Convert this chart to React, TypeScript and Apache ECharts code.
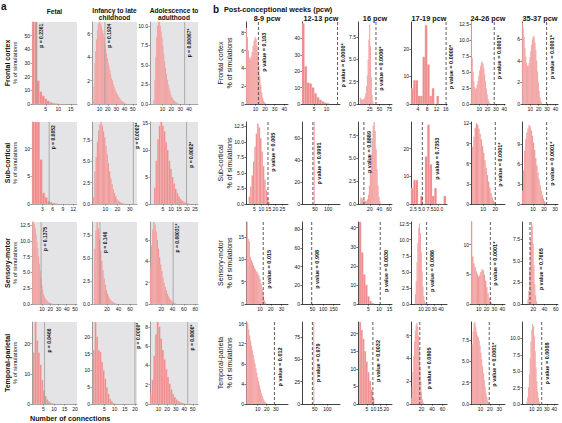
import React, { useEffect, useRef } from 'react';
import * as echarts from 'echarts';

// ---------- labels ----------
const regionsA = ['Frontal cortex', 'Sub-cortical', 'Sensory-motor', 'Temporal-parietal'];
const regionsB = ['Frontal cortex', 'Sub-cortical', 'Sensory-motor', 'Temporal-parieta'];
const stagesA = [['Fetal'], ['Infancy to late', 'childhood'], ['Adolescence to', 'adulthood']];
const stagesB = ['8-9 pcw', '12-13 pcw', '16 pcw', '17-19 pcw', '24-26 pcw', '35-37 pcw'];

// ---------- panel a: % of simulations per bin ----------
const aFrontalFetal = [62, 62, 17, 9, 6, 3.8, 2.2, 1.3, 0.7, 0.35, 0.15];
const aFrontalInfancy = [0.3, 1.5, 3.5, 4.5, 5.5, 6.3, 6.8, 7.0, 7.0, 6.9, 6.6, 6.3, 6.0, 5.6, 5.1, 4.7, 4.3, 3.9, 3.5, 3.2, 2.9, 2.5, 2.2, 2.0, 1.7, 1.5, 1.3, 1.1, 0.95, 0.8, 0.65, 0.55, 0.45, 0.35, 0.28, 0.22, 0.17, 0.12, 0.08];
const aFrontalAdolescence = [0.5, 3, 6, 8.5, 10, 10.5, 10.5, 10, 9.3, 8.5, 7.5, 6.5, 5.5, 4.6, 3.8, 3.1, 2.5, 2, 1.6, 1.2, 0.9, 0.7, 0.5, 0.4, 0.3, 0.2, 0.15, 0.1];
const aSubFetal = [15, 15, 15, 8, 2, 1.2, 0.5, 0.3, 0.15, 0.08];
const aSubInfancy = [0.8, 3.8, 5.5, 7.3, 8.6, 9.3, 9.6, 9.2, 8.5, 7.8, 6.8, 5.8, 4.8, 3.8, 3.0, 2.3, 1.7, 1.25, 0.9, 0.6, 0.4, 0.28, 0.18, 0.12, 0.07, 0.04];
const aSubAdolescence = [3, 8, 12, 14.5, 15.2, 14.5, 13.5, 11.5, 10, 8, 6.5, 5, 3.8, 2.8, 2, 1.4, 0.9, 0.6, 0.4, 0.25, 0.15, 0.1];
const aSensFetal = [13, 13, 12.6, 12, 11, 10, 8.8, 7.6, 6.4, 5.2, 4.0, 3.0, 2.2, 1.6, 1.2, 0.9, 0.7, 0.5, 0.38, 0.28, 0.2, 0.14, 0.1, 0.06];
const aSensInfancy = [6, 8, 8.9, 8.2, 7, 5.8, 4.7, 3.7, 2.8, 2.1, 1.5, 1.1, 0.8, 0.55, 0.38, 0.25, 0.16, 0.1, 0.06];
const aSensAdolescence = [3.5, 5.5, 7.0, 7.7, 7.5, 6.8, 6.0, 5.2, 4.4, 3.7, 3.1, 2.5, 2.0, 1.6, 1.25, 0.95, 0.7, 0.5, 0.35, 0.25, 0.17, 0.1, 0.06];
const aTempFetal = [17, 27.2, 21, 17, 13, 8, 4.5, 2.5, 1.5, 0.8, 0.4, 0.2, 0.1];
const aTempInfancy = [16, 24.4, 20, 16, 15.5, 12.5, 10, 7.5, 5, 3, 1.5, 0.8, 0.3, 0.1];
const aTempAdolescence = [1, 2.5, 5, 7.2, 8.5, 8.0, 6.8, 5.6, 4.6, 3.6, 2.8, 2.1, 1.5, 1.0, 0.7, 0.45, 0.3, 0.2, 0.12, 0.07];

// ---------- panel b: % of simulations per bin ----------
const bFrontal89 = [8.5, 7.5, 6.0, 5.2, 5.0, 5.3, 5.8, 6.5, 7.1, 7.5, 7.3, 6.6, 5.5, 4.3, 3.1, 2.1, 1.3, 0.7, 0.35, 0.15, 0.05];
const bFrontal1213 = [49, 23, 13, 12.5, 10, 6.5, 4, 2.5, 1.5, 0.8, 0.4];
const bFrontal16 = [0.7, 0.5, 0.5, 0.45, 0.5, 0.6, 0.8, 1.2, 2, 3.2, 5.0, 7.2, 8.9, 6.5, 3.0, 1.0, 0.3];
const bFrontal1719 = [5.7, 8.6, 8.6, 2.9, 2.9, 17.1, 28.6, 14.3, 2.9, 5.7, 0, 2.9];
const bFrontal2426 = [12.8, 7.2, 5, 3.5, 2.6, 2.3, 2.5, 3.0, 3.6, 4.4, 5.2, 5.9, 6.4, 6.6, 6.3, 5.6, 4.6, 3.5, 2.4, 1.5, 0.8, 0.4, 0.15];
const bFrontal3537 = [7.5, 7.0, 6.2, 5.2, 4.4, 3.8, 3.5, 3.5, 3.8, 4.3, 4.9, 5.5, 6.0, 6.3, 6.2, 5.7, 5.0, 4.0, 3.0, 2.0, 1.2, 0.6, 0.25, 0.1];
const bSub89 = [1.2, 2.8, 4.6, 6.8, 9.2, 11.3, 12.9, 12.3, 10.6, 8.4, 6.1, 3.9, 2.2, 1.0, 0.3];
const bSub1213 = [75];
const bSub16 = [0.7, 0.6, 0.5, 0.4, 0.4, 0.3, 0.3, 0.5, 1.0, 2.0, 3.6, 5.4, 7.2, 8.6, 9.0, 8.0, 6.0, 3.8, 2.0, 0.8, 0.3];
const bSub1719 = [5.7, 8.6, 8.6, 0, 2.9, 0, 17.1, 28.6, 14.3, 2.9, 5.7, 0, 0, 0, 2.9];
const bSub2426 = [8.5, 10, 11.3, 12, 11.8, 11.2, 10.4, 9.6, 8.6, 7.6, 6.5, 5.4, 4.3, 3.3, 2.4, 1.6, 1.0, 0.5, 0.2];
const bSub3537 = [2, 5, 8, 9.7, 10.7, 11.3, 11.8, 11.6, 11.0, 10.2, 9.2, 8.1, 6.9, 5.8, 4.7, 3.7, 2.8, 2.0, 1.3, 0.8, 0.4, 0.15];
const bSens89 = [18.3, 14.5, 14.0, 10.5, 9.8, 9.2, 8.6, 8.0, 7.6, 7.2, 6.8, 6.3, 5.6, 4.6, 3.3, 1.9, 0.8, 0.3];
const bSens1213 = [5];
const bSens16 = [43, 27, 15.5, 10, 4, 1.5, 0.5];
const bSens1719 = [1.5, 3.5, 6.5, 9.5, 11.8, 12.5, 11.0, 8.0, 5.0, 2.7, 1.2, 0.5, 0.15];
const bSens2426 = [13.8, 8.0, 6.8, 6.2, 5.5, 5.0, 4.6, 4.8, 5.4, 5.8, 5.6, 4.9, 3.9, 2.8, 1.8, 1.0, 0.5, 0.2];
const bSens3537 = [0.5, 1.5, 4, 7.5, 9.5, 9.0, 7.0, 4.5, 2.3, 1.0, 0.3];
const bTemp89 = [16.3, 16, 14.8, 13.6, 12.6, 11.6, 10.7, 9.8, 8.9, 8.0, 7.1, 6.2, 5.3, 4.5, 3.7, 2.9, 2.2, 1.6, 1.1, 0.7, 0.4, 0.2, 0.1];
const bTemp1213 = [92];
const bTemp16 = [23.3, 21, 18.5, 15, 12, 9, 6.5, 4, 1.5];
const bTemp1719 = [0.5, 1.5, 2.8, 4.2, 5.5, 6.4, 6.9, 7.1, 6.8, 6.0, 4.8, 3.3, 2.0, 1.0, 0.4, 0.15];
const bTemp2426 = [7, 8.5, 9.4, 9.6, 9.0, 8.4, 8.0, 7.8, 7.4, 6.8, 6.0, 5.2, 4.4, 3.6, 2.8, 2.0, 1.3, 0.8, 0.4, 0.15];
const bTemp3537 = [0.3, 1.0, 2.5, 4.5, 7.0, 9.5, 11.3, 12.2, 11.8, 10.3, 8.0, 5.6, 3.5, 1.9, 0.9, 0.3];

// ---------- layout ----------
const A_COLS = [[32, 45], [92, 45], [150, 48]];
const B_COLS = [[246, 42], [302, 38], [358, 34], [411, 36], [471, 34], [522, 36]];
const ROW_TOPS = [22, 122, 222, 322];
const ROW_H = 82;
const FONT = '"Liberation Sans", Arial, Helvetica, sans-serif';
const BAR_FILL = '#ef8a8a';
const BAR_EDGE = '#f8c2c2';

type Spec = {
  kind: 'a' | 'b'; row: number; col: number;
  h: number[]; bs: number; bw: number;
  xMin: number; xMax: number; xTicks: number[]; xDec?: number;
  yMax: number; yTicks: number[]; yDec?: number;
  pLine: number; pText: string; top: number; gap: number;
};

const specs: Spec[] = [
  // panel a
  { kind: 'a', row: 0, col: 0, h: aFrontalFetal, bs: -0.5, bw: 1, xMin: -0.5, xMax: 17.5, xTicks: [5, 10, 15], yMax: 60, yTicks: [0, 10, 20, 30, 40, 50], pLine: 1.4, pText: 'p = 0.2361', top: 0.02, gap: 1.5 },
  { kind: 'a', row: 0, col: 1, h: aFrontalInfancy, bs: 2, bw: 1, xMin: 1, xMax: 55, xTicks: [10, 20, 30, 40, 50], yMax: 7, yTicks: [0, 2, 4, 6], pLine: 16.5, pText: 'p = 0.1924', top: 0.02, gap: 1.5 },
  { kind: 'a', row: 0, col: 2, h: aFrontalAdolescence, bs: 0, bw: 1, xMin: -4, xMax: 50, xTicks: [10, 20, 30, 40], yMax: 10.5, yTicks: [0, 2.5, 5, 7.5, 10], yDec: 1, pLine: 35, pText: 'p = 0.00067*', top: 0.08, gap: 1.5 },
  { kind: 'a', row: 1, col: 0, h: aSubFetal, bs: 0, bw: 0.75, xMin: 0, xMax: 13.1, xTicks: [3, 6, 9, 12], yMax: 14.8, yTicks: [0, 5, 10], pLine: 5, pText: 'p = 0.0052', top: 0.04, gap: 1.5 },
  { kind: 'a', row: 1, col: 1, h: aSubInfancy, bs: 0, bw: 1, xMin: -1, xMax: 36, xTicks: [10, 20, 30], yMax: 9.6, yTicks: [0, 2.5, 5, 7.5], yDec: 1, pLine: 33, pText: 'p = 0.0002*', top: 0.01, gap: 1.5 },
  { kind: 'a', row: 1, col: 2, h: aSubAdolescence, bs: -0.5, bw: 1, xMin: -3, xMax: 26.8, xTicks: [5, 10, 15, 20, 25], yMax: 15.2, yTicks: [0, 5, 10, 15], pLine: 19.7, pText: 'p = 0.0002*', top: 0.24, gap: 1.5 },
  { kind: 'a', row: 2, col: 0, h: aSensFetal, bs: -1.5, bw: 1, xMin: -2, xMax: 52.5, xTicks: [10, 20, 30, 40, 50], yMax: 13, yTicks: [0, 2.5, 5, 7.5, 10, 12.5], yDec: 1, pLine: 9, pText: 'p = 0.1375', top: 0.06, gap: 1.5 },
  { kind: 'a', row: 2, col: 1, h: aSensInfancy, bs: -2, bw: 2, xMin: -6, xMax: 72, xTicks: [20, 40, 60], yMax: 8.9, yTicks: [0, 2.5, 5, 7.5], yDec: 1, pLine: 7.8, pText: 'p = 0.146', top: 0.12, gap: 2.5 },
  { kind: 'a', row: 2, col: 2, h: aSensAdolescence, bs: 0, bw: 2, xMin: 0, xMax: 85, xTicks: [20, 40, 60, 80], yMax: 7.7, yTicks: [0, 2, 4, 6], pLine: 41, pText: 'p = 0.00031*', top: 0.02, gap: 1.5 },
  { kind: 'a', row: 3, col: 0, h: aTempFetal, bs: 0, bw: 0.8, xMin: -0.5, xMax: 21, xTicks: [5, 10, 15, 20], yMax: 27.2, yTicks: [0, 10, 20], pLine: 5.5, pText: 'p = 0.0466', top: 0.08, gap: 1.5 },
  { kind: 'a', row: 3, col: 1, h: aTempInfancy, bs: -0.5, bw: 0.8, xMin: -1, xMax: 21, xTicks: [5, 10, 15, 20], yMax: 24.4, yTicks: [0, 5, 10, 15, 20], pLine: 20, pText: 'p = 0.0000*', top: 0.01, gap: 1 },
  { kind: 'a', row: 3, col: 2, h: aTempAdolescence, bs: 0, bw: 2, xMin: 0, xMax: 56, xTicks: [10, 20, 30, 40, 50], yMax: 8.5, yTicks: [0, 2, 4, 6, 8], pLine: 44, pText: 'p = 0.0000*', top: 0.03, gap: 1.5 },
  // panel b row 0
  { kind: 'b', row: 0, col: 0, h: bFrontal89, bs: 0, bw: 1, xMin: 0, xMax: 44, xTicks: [10, 20, 30, 40], yMax: 9.2, yTicks: [0, 2, 4, 6, 8], pLine: 13, pText: 'p value = 0.103', top: 0.13, gap: 3 },
  { kind: 'b', row: 0, col: 1, h: bFrontal1213, bs: 0, bw: 1, xMin: 0, xMax: 15.5, xTicks: [5, 10], yMax: 50, yTicks: [0, 10, 20, 30, 40], pLine: 14.5, pText: 'p value = 0.0000*', top: 0.26, gap: 2.5 },
  { kind: 'b', row: 0, col: 2, h: bFrontal16, bs: 0, bw: 2, xMin: -5, xMax: 82, xTicks: [25, 50, 75], yMax: 9.2, yTicks: [0, 2.5, 5, 7.5], yDec: 1, pLine: 41, pText: 'p value = 0.0006*', top: 0.3, gap: 2.5 },
  { kind: 'b', row: 0, col: 3, h: bFrontal1719, bs: 1, bw: 1, xMin: 1, xMax: 16.5, xTicks: [4, 8, 12, 16], yMax: 29.8, yTicks: [0, 10, 20], pLine: 16.1, pText: 'p value = 0.0000*', top: 0.28, gap: 2 },
  { kind: 'b', row: 0, col: 4, h: bFrontal2426, bs: 0, bw: 1, xMin: 0, xMax: 41, xTicks: [10, 20, 30, 40], yMax: 12.8, yTicks: [0, 2.5, 5, 7.5, 10, 12.5], yDec: 1, pLine: 28, pText: 'p value = 0.0001*', top: 0.16, gap: 2 },
  { kind: 'b', row: 0, col: 5, h: bFrontal3537, bs: 0, bw: 1, xMin: 0, xMax: 43, xTicks: [10, 20, 30, 40], yMax: 7.6, yTicks: [0, 2, 4, 6], pLine: 29.4, pText: 'p value = 0.0001*', top: 0.16, gap: 2 },
  // row 1
  { kind: 'b', row: 1, col: 0, h: bSub89, bs: 1, bw: 1, xMin: -1, xMax: 29, xTicks: [5, 10, 15, 20, 25], yMax: 13.2, yTicks: [0, 2.5, 5, 7.5, 10, 12.5], yDec: 1, pLine: 14.7, pText: 'p value = 0.005', top: 0.13, gap: 2.5 },
  { kind: 'b', row: 1, col: 1, h: bSub1213, bs: 45, bw: 3, xMin: 0, xMax: 145, xTicks: [50, 100], yMax: 75, yTicks: [0, 20, 40, 60], pLine: 41.5, pText: 'p value = 0.9991', top: 0.25, gap: 3 },
  { kind: 'b', row: 1, col: 2, h: bSub16, bs: 0, bw: 2, xMin: -5, xMax: 66.5, xTicks: [20, 40, 60], yMax: 9.0, yTicks: [0, 2.5, 5, 7.5], yDec: 1, pLine: 7.4, pText: 'p value = 0.8889', top: 0.11, gap: 2 },
  { kind: 'b', row: 1, col: 3, h: bSub1719, bs: 1.8, bw: 0.7, xMin: 1.8, xMax: 12.6, xTicks: [2.5, 5, 7.5, 10], xDec: 1, yMax: 29.6, yTicks: [0, 10, 20], pLine: 5.2, pText: 'p value = 0.7353', top: 0.19, gap: 11.5 },
  { kind: 'b', row: 1, col: 4, h: bSub2426, bs: 1, bw: 1, xMin: 0, xMax: 28, xTicks: [10, 20], yMax: 12.2, yTicks: [0, 3, 6, 9, 12], pLine: 20, pText: 'p value = 0.0001*', top: 0.25, gap: 2 },
  { kind: 'b', row: 1, col: 5, h: bSub3537, bs: 0, bw: 1, xMin: 0, xMax: 32.7, xTicks: [10, 20, 30], yMax: 12.3, yTicks: [0, 3, 6, 9], pLine: 22.4, pText: 'p value = 0.0001*', top: 0.24, gap: 2 },
  // row 2
  { kind: 'b', row: 2, col: 0, h: bSens89, bs: -2.5, bw: 1, xMin: -3, xMax: 36, xTicks: [10, 20, 30], yMax: 18.3, yTicks: [0, 5, 10, 15], pLine: 13, pText: 'p value = 0.015', top: 0.34, gap: 2.5 },
  { kind: 'b', row: 2, col: 1, h: bSens1213, bs: 44, bw: 3, xMin: 0, xMax: 180, xTicks: [50, 100, 150], yMax: 88, yTicks: [0, 20, 40, 60, 80], pLine: 46, pText: 'p value = 0.998', top: 0.34, gap: 2.5 },
  { kind: 'b', row: 2, col: 2, h: bSens16, bs: 0.5, bw: 1, xMin: 0, xMax: 16.2, xTicks: [5, 10, 15], yMax: 43, yTicks: [0, 10, 20, 30, 40], pLine: 10.6, pText: 'p value = 0.0030', top: 0.34, gap: 2.5 },
  { kind: 'b', row: 2, col: 3, h: bSens1719, bs: 1, bw: 1.25, xMin: -5, xMax: 49, xTicks: [10, 20, 30, 40], yMax: 12.75, yTicks: [0, 2.5, 5, 7.5, 10, 12.5], yDec: 1, pLine: 18.5, pText: 'p value = 0.0086', top: 0.34, gap: 2.5 },
  { kind: 'b', row: 2, col: 4, h: bSens2426, bs: 0, bw: 1.5, xMin: 0, xMax: 43.6, xTicks: [10, 20, 30, 40], yMax: 13.8, yTicks: [0, 5, 10], pLine: 24.8, pText: 'p value = 0.0001*', top: 0.24, gap: 2 },
  { kind: 'b', row: 2, col: 5, h: bSens3537, bs: 10, bw: 1.5, xMin: 0, xMax: 64, xTicks: [20, 40, 60], yMax: 9.5, yTicks: [0, 2.5, 5, 7.5], yDec: 1, pLine: 14.2, pText: 'p value = 0.7665', top: 0.32, gap: 8 },
  // row 3
  { kind: 'b', row: 3, col: 0, h: bTemp89, bs: -2.5, bw: 1, xMin: -3, xMax: 43.7, xTicks: [10, 20, 30], yMax: 16.3, yTicks: [0, 4, 8, 12, 16], pLine: 28.6, pText: 'p value = 0.012', top: 0.31, gap: 2.5 },
  { kind: 'b', row: 3, col: 1, h: bTemp1213, bs: 45, bw: 3, xMin: 0, xMax: 150, xTicks: [50, 100], yMax: 92, yTicks: [0, 25, 50, 75], pLine: 41, pText: 'p value = 0.979', top: 0.26, gap: 3 },
  { kind: 'b', row: 3, col: 2, h: bTemp16, bs: -1, bw: 1.3, xMin: -2, xMax: 24.5, xTicks: [5, 10, 15, 20], yMax: 23.3, yTicks: [0, 5, 10, 15, 20], pLine: 9.6, pText: 'p value = 0.0032', top: 0.22, gap: 2.5 },
  { kind: 'b', row: 3, col: 3, h: bTemp1719, bs: 0, bw: 1.5, xMin: 0, xMax: 68.6, xTicks: [20, 40, 60], yMax: 7.2, yTicks: [0, 2, 4, 6], pLine: 16.8, pText: 'p value = 0.0805', top: 0.31, gap: 6 },
  { kind: 'b', row: 3, col: 4, h: bTemp2426, bs: 1, bw: 0.9, xMin: 0, xMax: 36, xTicks: [10, 20, 30], yMax: 9.6, yTicks: [0, 2.5, 5, 7.5], yDec: 1, pLine: 19.3, pText: 'p value = 0.0001*', top: 0.25, gap: 2 },
  { kind: 'b', row: 3, col: 5, h: bTemp3537, bs: 3, bw: 1.1, xMin: -3, xMax: 45, xTicks: [10, 20, 30, 40], yMax: 12.5, yTicks: [0, 2.5, 5, 7.5, 10], yDec: 1, pLine: 23.3, pText: 'p value = 0.0008', top: 0.25, gap: 2 },
];

function buildOption() {
  const grid: any[] = [];
  const xAxis: any[] = [];
  const yAxis: any[] = [];
  const series: any[] = [];
  const graphic: any[] = [];

  specs.forEach((s, i) => {
    const col = s.kind === 'a' ? A_COLS[s.col] : B_COLS[s.col];
    const isA = s.kind === 'a';
    grid.push({
      left: col[0], top: ROW_TOPS[s.row], width: col[1], height: ROW_H,
      show: isA, backgroundColor: '#e4e4e7', borderWidth: 0,
    });
    const axisColor = isA ? '#666' : '#111';
    const common = {
      type: 'value', gridIndex: i, splitLine: { show: false },
      axisLine: { show: true, onZero: false, lineStyle: { color: axisColor, width: isA ? 0.6 : 0.8 } },
    };
    xAxis.push({
      ...common, min: s.xMin, max: s.xMax,
      axisTick: { show: true, length: 1.6, customValues: s.xTicks, lineStyle: { color: axisColor, width: 0.6 } },
      axisLabel: {
        customValues: s.xTicks, fontSize: 5, margin: 2, color: '#111', fontFamily: FONT,
        formatter: (v: number) => v.toFixed(s.xDec || 0),
      },
    });
    yAxis.push({
      ...common, min: 0, max: s.yMax,
      axisTick: { show: true, length: 1.6, customValues: s.yTicks, lineStyle: { color: axisColor, width: 0.6 } },
      axisLabel: {
        customValues: s.yTicks, fontSize: 5, margin: 2, color: '#111', fontFamily: FONT,
        formatter: (v: number) => v.toFixed(s.yDec || 0),
      },
    });
    series.push({
      type: 'custom', xAxisIndex: i, yAxisIndex: i, silent: true,
      encode: { x: [0, 1], y: 2 },
      data: s.h.map((v, k) => [s.bs + k * s.bw, s.bs + (k + 1) * s.bw, v]),
      renderItem: (params: any, api: any) => {
        const a = api.coord([api.value(0), api.value(2)]);
        const b = api.coord([api.value(1), 0]);
        const cs = params.coordSys;
        const shape = echarts.graphic.clipRectByRect(
          { x: a[0], y: a[1], width: b[0] - a[0], height: b[1] - a[1] },
          { x: cs.x, y: cs.y, width: cs.width, height: cs.height }
        );
        if (!shape) return null;
        return { type: 'rect', shape, style: { fill: BAR_FILL, stroke: BAR_EDGE, lineWidth: 0.3 } };
      },
    });
    series.push({
      type: 'custom', xAxisIndex: i, yAxisIndex: i, silent: true, z: 5,
      encode: { x: 0, y: 1 },
      data: [[s.pLine, 0]],
      renderItem: (params: any, api: any) => {
        const cs = params.coordSys;
        const px = api.coord([api.value(0), 0])[0];
        return {
          type: 'group',
          children: [
            {
              type: 'line',
              shape: { x1: px, y1: cs.y, x2: px, y2: cs.y + cs.height },
              style: isA
                ? { stroke: '#9c9c9c', lineWidth: 0.8 }
                : { stroke: '#333', lineWidth: 0.8, lineDash: [3, 2] },
            },
            {
              type: 'text',
              x: px + s.gap, y: cs.y + s.top * cs.height,
              rotation: Math.PI / 2,
              style: {
                text: s.pText, fontSize: isA ? 5 : 5.5, fontWeight: 'bold', fontFamily: FONT,
                fill: '#111', align: 'right', verticalAlign: 'top',
              },
            },
          ],
        };
      },
    });
  });

  const txt = (text: string, x: number, y: number, size: number, opts: any = {}) => ({
    type: 'text', x, y, rotation: opts.rot ? Math.PI / 2 : 0, silent: true,
    style: {
      text, fontSize: size, fontWeight: opts.bold ? 'bold' : 'normal', fontFamily: FONT, fill: '#111',
      align: opts.align || 'center', verticalAlign: 'middle',
    },
  });

  // panel letters & headers
  graphic.push(txt('a', 1, 6, 10, { bold: true, align: 'left' }));
  graphic.push(txt('b', 213, 9, 10, { bold: true, align: 'left' }));
  graphic.push(txt('Post-conceptional weeks (pcw)', 224, 9, 7.3, { bold: true, align: 'left' }));
  stagesA.forEach((lines, c) => {
    const cx = A_COLS[c][0] + A_COLS[c][1] / 2;
    lines.forEach((ln, k) => {
      const y = lines.length === 1 ? 11 : 10 + k * 7;
      graphic.push(txt(ln, cx, y, 6.6, { bold: true }));
    });
  });
  stagesB.forEach((t, c) => {
    const cx = B_COLS[c][0] + B_COLS[c][1] / 2;
    graphic.push(txt(t, cx, 18, 7.3, { bold: true }));
  });
  ROW_TOPS.forEach((top, r) => {
    const cy = top + ROW_H / 2;
    graphic.push(txt(regionsA[r], 7, cy, 7, { bold: true, rot: true }));
    graphic.push(txt('% of simulations', 14.5, cy, 5.8, { rot: true }));
    graphic.push(txt(regionsB[r], 220.5, cy, 7, { rot: true }));
    graphic.push(txt('% of simulations', 229, cy, 7, { rot: true }));
  });
  graphic.push(txt('Number of connections', 30, 418, 7.2, { bold: true, align: 'left' }));

  return {
    animation: false,
    backgroundColor: '#ffffff',
    textStyle: { fontFamily: FONT },
    grid, xAxis, yAxis, series, graphic,
  };
}

export default function App() {
  const ref = useRef<HTMLDivElement>(null);
  useEffect(() => {
    if (!ref.current) return;
    const chart = echarts.init(ref.current, undefined, { renderer: 'svg' });
    chart.setOption(buildOption() as any);
    return () => chart.dispose();
  }, []);
  return (
    <div
      ref={ref}
      style={{ position: 'fixed', left: 0, top: 0, width: 562, height: 423, background: '#fff' }}
    />
  );
}
